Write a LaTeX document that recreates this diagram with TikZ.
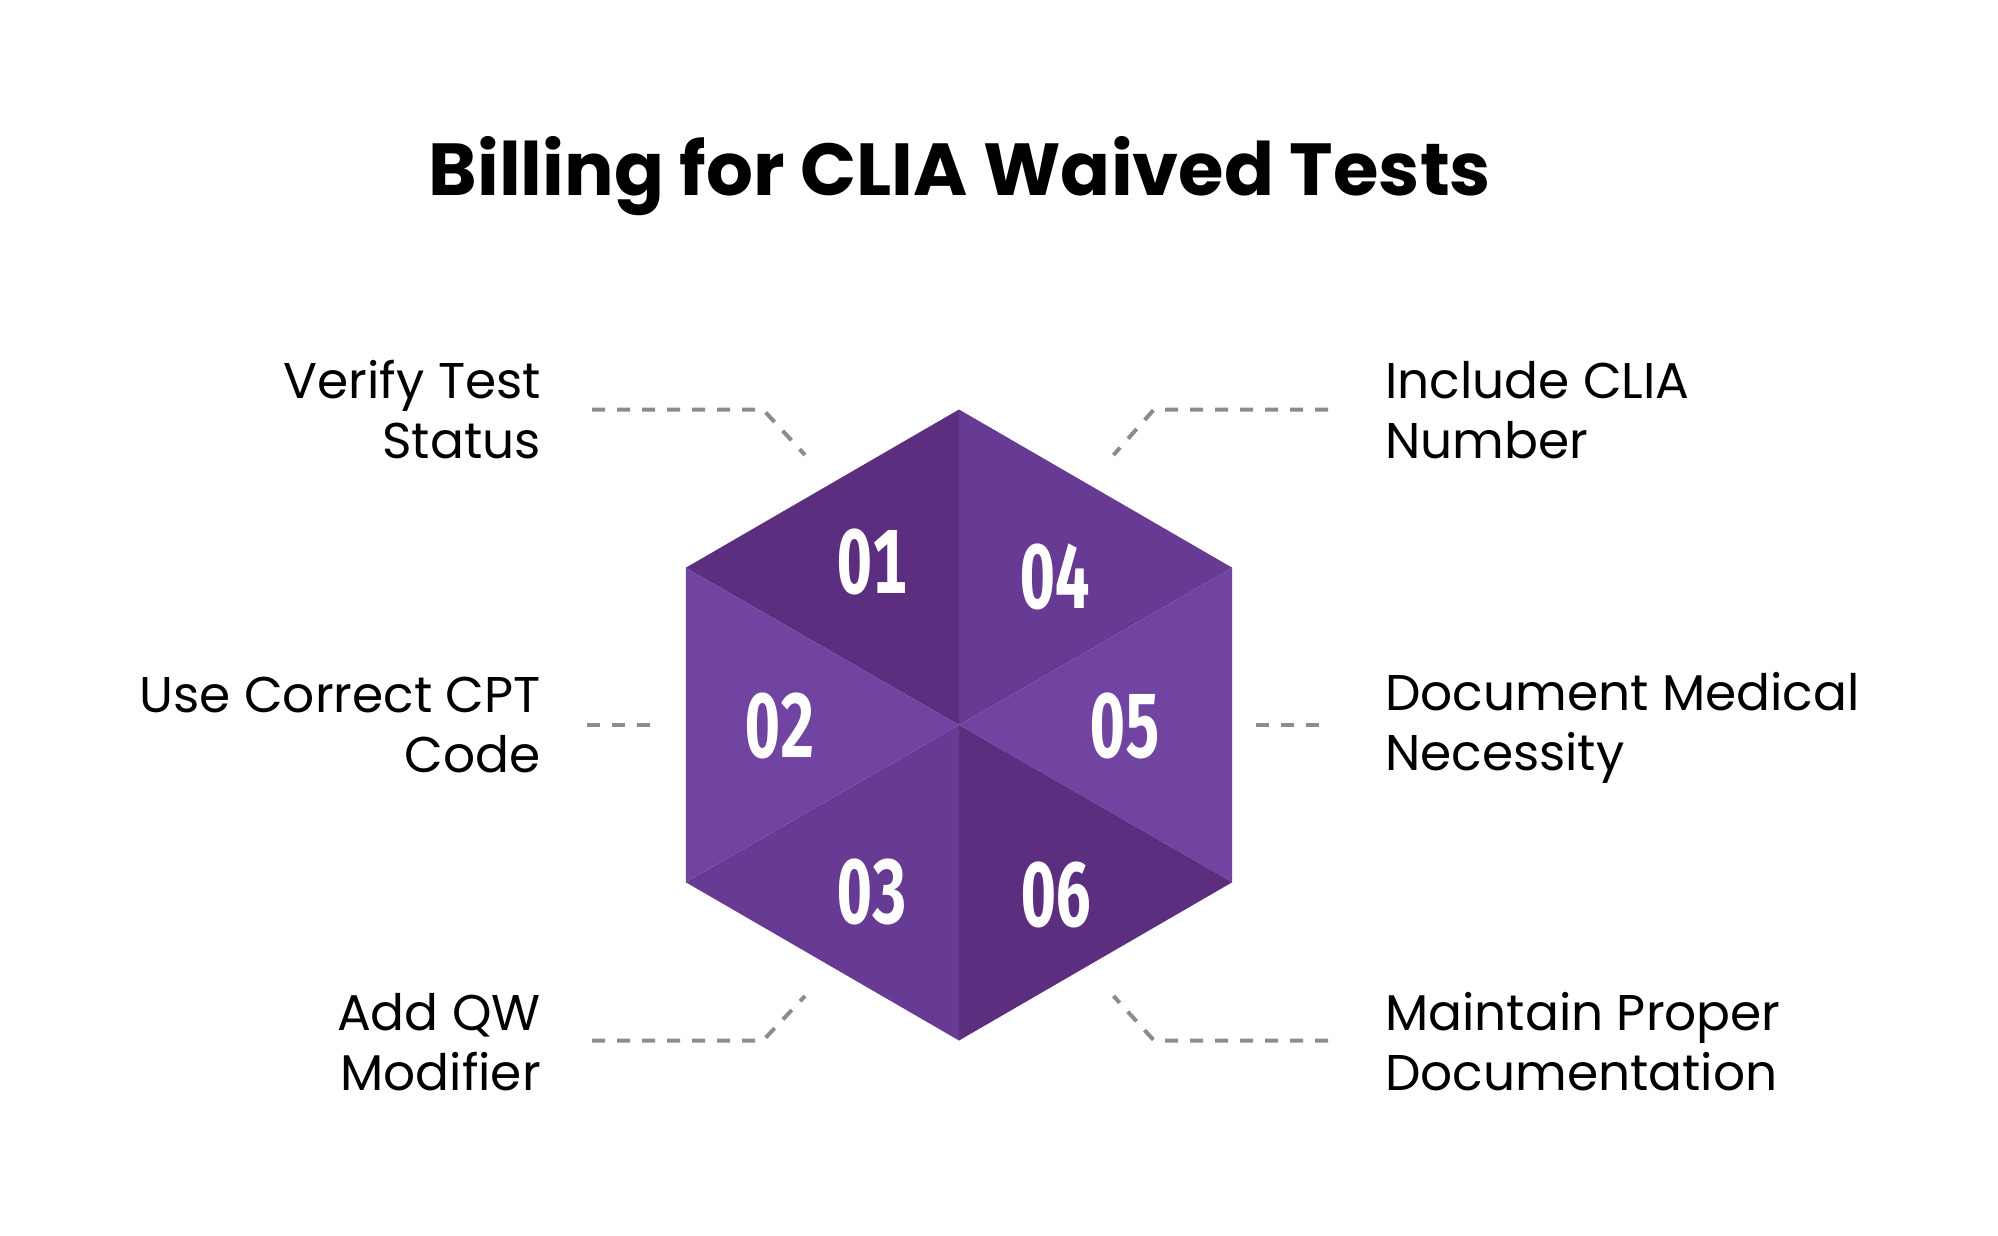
\documentclass[tikz,border=0pt]{standalone}
\usepackage{fontspec}
\setmainfont{Poppins}
\newfontfamily\numfont[FakeStretch=0.68,Numbers=Monospaced]{Fira Sans}
\definecolor{hexdark}{HTML}{5B2E7F}
\definecolor{hexmid}{HTML}{673A93}
\definecolor{hexlight}{HTML}{7244A1}
\definecolor{leadgray}{HTML}{8C8C8C}
\begin{document}
\begin{tikzpicture}[x=1pt,y=-1pt,
  lbl/.style={inner sep=0pt, font=\fontsize{50.2}{60}\selectfont},
  num/.style={inner sep=0pt, text=white, font=\numfont\bfseries\fontsize{91}{91}\selectfont},
  leader/.style={draw=leadgray, line width=4pt, dash pattern=on 13pt off 12pt},
  titlestyle/.style={inner sep=0pt, font=\bfseries\fontsize{73.7}{90}\selectfont}]
\useasboundingbox[fill=white] (0,0) rectangle (1998,1236);

% title
\node[titlestyle, anchor=base] (title) at (960,196) {Billing for CLIA Waived Tests};

% hexagon
\coordinate (C) at (959,725);
\coordinate (T) at (959,409.5);
\coordinate (UR) at (1232.2,567.75);
\coordinate (LR) at (1232.2,882.25);
\coordinate (B) at (959,1040.5);
\coordinate (LL) at (685.8,882.25);
\coordinate (UL) at (685.8,567.75);
\fill[hexdark] (C) -- (T) -- (UL) -- cycle;
\fill[hexmid] (C) -- (T) -- (UR) -- cycle;
\fill[hexlight] (C) -- (UR) -- (LR) -- cycle;
\fill[hexdark] (C) -- (LR) -- (B) -- cycle;
\fill[hexmid] (C) -- (B) -- (LL) -- cycle;
\fill[hexlight] (C) -- (LL) -- (UL) -- cycle;

% numbers
\node[num] (n1) at (872,562) {01};
\node[num] (n4) at (1055,577) {04};
\node[num] (n2) at (780,726) {02};
\node[num] (n5) at (1125,726) {05};
\node[num] (n3) at (872,892) {03};
\node[num] (n6) at (1056,895) {06};

% labels
\node[lbl, anchor=base east] (l1) at (541,398) {\begin{tabular}[t]{@{}r@{}}Verify Test\\Status\end{tabular}};
\node[lbl, anchor=base east] (l2) at (541,712) {\begin{tabular}[t]{@{}r@{}}Use Correct CPT\\Code\end{tabular}};
\node[lbl, anchor=base east] (l3) at (541,1030) {\begin{tabular}[t]{@{}r@{}}Add QW\\Modifier\end{tabular}};
\node[lbl, anchor=base west] (r1) at (1385,398) {\begin{tabular}[t]{@{}l@{}}Include CLIA\\Number\end{tabular}};
\node[lbl, anchor=base west] (r2) at (1385,710) {\begin{tabular}[t]{@{}l@{}}Document Medical\\Necessity\end{tabular}};
\node[lbl, anchor=base west] (r3) at (1385,1030) {\begin{tabular}[t]{@{}l@{}}Maintain Proper\\Documentation\end{tabular}};

% leaders
\coordinate (a1s) at (592,409.5);
\coordinate (a1k) at (763,409.5);
\coordinate (a1e) at (805,455);
\coordinate (a2s) at (587,725);
\coordinate (a2e) at (652,725);
\coordinate (a3s) at (592,1040.5);
\coordinate (a3k) at (763,1040.5);
\coordinate (a3e) at (805,996);
\coordinate (b1s) at (1328,409.5);
\coordinate (b1k) at (1154,409.5);
\coordinate (b1e) at (1113.5,455);
\coordinate (b2s) at (1319,725);
\coordinate (b2e) at (1255,725);
\coordinate (b3s) at (1328,1040.5);
\coordinate (b3k) at (1154,1040.5);
\coordinate (b3e) at (1113.5,996);
\draw[leader] (a1s) -- (a1k) -- (a1e);
\draw[leader] (a2s) -- (a2e);
\draw[leader] (a3s) -- (a3k) -- (a3e);
\draw[leader] (b1s) -- (b1k) -- (b1e);
\draw[leader] (b2s) -- (b2e);
\draw[leader] (b3s) -- (b3k) -- (b3e);
\end{tikzpicture}
\end{document}
